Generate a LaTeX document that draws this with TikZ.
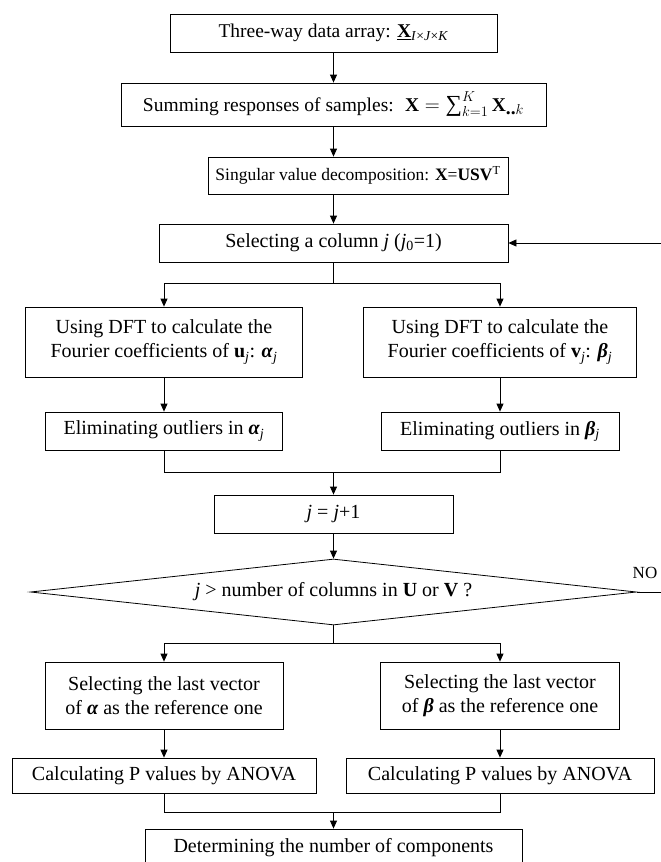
\documentclass[tikz,border=0pt]{standalone}
\usepackage{fontspec}
\setmainfont{Liberation Serif}
\usetikzlibrary{arrows.meta,shapes.geometric}
\begin{document}
\begin{tikzpicture}[x=1pt,y=-1pt,
  box/.style={draw, line width=0.8pt, inner sep=0pt, align=center, font=\fontsize{20}{24}\selectfont},
  topfont/.style={font=\fontsize{19.5}{23}\selectfont},
  svdfont/.style={font=\fontsize{17.5}{21}\selectfont},
  arr/.style={-{Triangle[length=8pt,width=7pt]}, line width=0.8pt},
  ln/.style={line width=0.8pt}]
\clip (0,0) rectangle (661,862);
% boxes
\node[box, topfont, minimum width=327pt, minimum height=38pt] (n1) at (333.5,33)
  {Three-way data array: \underline{\textbf{X}}\textsubscript{\textit{I}×\textit{J}×\textit{K}}};
\node[box, topfont, minimum width=425pt, minimum height=43pt] (n2) at (333.5,104.5)
  {Summing responses of samples:~ $\textbf{X}=\mathop{\mbox{\fontsize{23}{23}\selectfont ∑}}\nolimits_{k=1}^{K}\textbf{X}_{\textbf{..}k}$};
\node[box, svdfont, minimum width=300pt, minimum height=37pt] (n3) at (358,175.5)
  {Singular value decomposition: \textbf{X}=\textbf{USV}\textsuperscript{T}};
\node[box, minimum width=349pt, minimum height=38pt] (n4) at (333.5,243)
  {Selecting a column \textit{j} (\textit{j}\textsubscript{0}=1)};
\node[box, minimum width=277pt, minimum height=70pt] (dftL) at (164,342)
  {Using DFT to calculate the\\Fourier coefficients of \textbf{u}\textsubscript{\textit{j}}: \textbf{\textit{α}}\textsubscript{\textit{j}}};
\node[box, minimum width=273pt, minimum height=70pt] (dftR) at (500,342)
  {Using DFT to calculate the\\Fourier coefficients of \textbf{v}\textsubscript{\textit{j}}: \textbf{\textit{β}}\textsubscript{\textit{j}}};
\node[box, minimum width=237pt, minimum height=38pt] (elL) at (164,431)
  {Eliminating outliers in \textbf{\textit{α}}\textsubscript{\textit{j}}};
\node[box, minimum width=238pt, minimum height=38pt] (elR) at (500,431)
  {Eliminating outliers in \textbf{\textit{β}}\textsubscript{\textit{j}}};
\node[box, minimum width=239pt, minimum height=38pt] (jb) at (333.5,514)
  {\textit{j} = \textit{j}+1};
\node[draw, diamond, aspect=9.18, minimum width=606pt, minimum height=66pt, inner sep=0pt,
  line width=0.8pt, font=\fontsize{20}{24}\selectfont] (dia) at (333.5,592)
  {\textit{j} > number of columns in \textbf{U} or \textbf{V} ?};
\node[font=\fontsize{17}{20}\selectfont, anchor=base, inner sep=0pt] (no) at (645,578) {NO};
\node[box, minimum width=238pt, minimum height=67pt] (alp) at (164,695.5)
  {Selecting the last vector\\of \textbf{\textit{α}} as the reference one};
\node[box, minimum width=239pt, minimum height=67pt] (bet) at (500,695.5)
  {Selecting the last vector\\of \textbf{\textit{β}} as the reference one};
\node[box, minimum width=304pt, minimum height=35pt] (anL) at (164,775.5)
  {Calculating P values by ANOVA};
\node[box, minimum width=308pt, minimum height=35pt] (anR) at (500,775.5)
  {Calculating P values by ANOVA};
\node[box, minimum width=377pt, minimum height=38pt] (fin) at (333.5,848)
  {Determining the number of components};
% junctions
\coordinate (s1) at (333.5,283.5);
\coordinate (m1) at (333.5,472);
\coordinate (s2) at (333.5,643);
\coordinate (m2) at (333.5,812);
\coordinate (fb) at (661,243);
\coordinate (noE) at (661,592);
% connectors
\draw[arr] (n1.south) -- (n2.north);
\draw[arr] (n2.south) -- (n2.south |- n3.north);
\draw[arr] (n3.south -| n4.north) -- (n4.north);
\draw[arr] (fb) -- (n4.east);
\draw[ln] (n4.south) -- (s1);
\draw[arr] (s1) -| (dftL.north);
\draw[arr] (s1) -| (dftR.north);
\draw[arr] (dftL.south) -- (elL.north);
\draw[arr] (dftR.south) -- (elR.north);
\draw[ln] (elL.south) |- (m1);
\draw[ln] (elR.south) |- (m1);
\draw[arr] (m1) -- (jb.north);
\draw[arr] (jb.south) -- (dia.north);
\draw[ln] (dia.east) -- (noE);
\draw[ln] (dia.south) -- (s2);
\draw[arr] (s2) -| (alp.north);
\draw[arr] (s2) -| (bet.north);
\draw[arr] (alp.south) -- (anL.north);
\draw[arr] (bet.south) -- (anR.north);
\draw[ln] (anL.south) |- (m2);
\draw[ln] (anR.south) |- (m2);
\draw[arr] (m2) -- (fin.north);
\end{tikzpicture}
\end{document}
